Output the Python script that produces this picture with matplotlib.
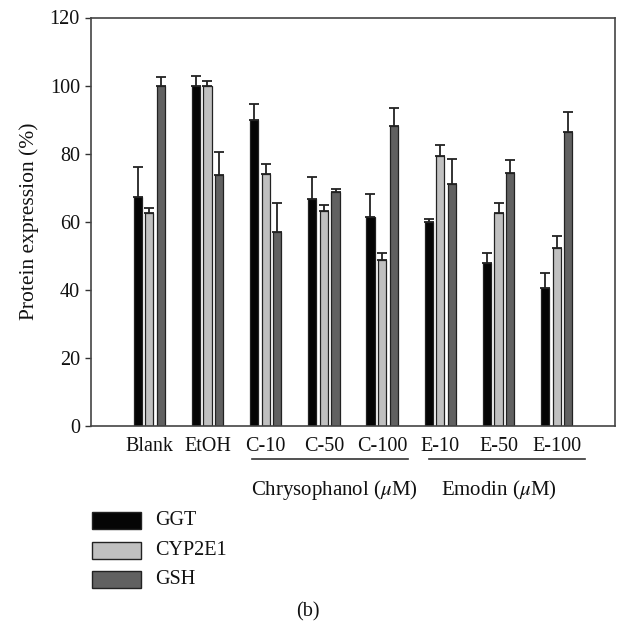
import matplotlib
matplotlib.use("Agg")
import matplotlib.pyplot as plt
from matplotlib.patches import Rectangle
from matplotlib.lines import Line2D
import numpy as np

plt.rcParams["font.family"] = ["Liberation Serif", "DejaVu Serif"]
plt.rcParams["mathtext.fontset"] = "stix"

categories = ["Blank", "EtOH", "C-10", "C-50", "C-100", "E-10", "E-50", "E-100"]
series = ["GGT", "CYP2E1", "GSH"]

ggt = [67.2, 100.0, 89.9, 66.8, 61.3, 59.9, 48.0, 40.6]
ggt_err = [9.0, 2.9, 4.7, 6.3, 6.8, 1.0, 2.7, 4.2]
cyp = [62.5, 100.0, 74.0, 63.2, 48.8, 79.2, 62.7, 52.2]
cyp_err = [1.4, 1.4, 3.1, 1.7, 1.9, 3.4, 2.9, 3.7]
gsh = [100.0, 73.8, 56.9, 68.6, 88.0, 71.1, 74.3, 86.4]
gsh_err = [2.5, 6.7, 8.7, 1.1, 5.4, 7.2, 3.7, 5.8]

colors = ["#050505", "#c0c0c0", "#616161"]
edge = "#222222"
fs = 14.5

fig = plt.figure(figsize=(6.18, 6.32), dpi=100)
ax = fig.add_axes([91 / 618, 1 - 426 / 632, (615 - 91) / 618, (426 - 17.5) / 632])

x = np.arange(len(categories))
offsets = [-0.2, 0.0, 0.2]
width = 0.14
for vals, errs, off, col in zip([ggt, cyp, gsh], [ggt_err, cyp_err, gsh_err], offsets, colors):
    ax.bar(x + off, vals, width, color=col, edgecolor=edge, linewidth=0.9, zorder=2)
    ax.errorbar(x + off, vals, yerr=[np.zeros(len(vals)), errs], fmt="none",
                ecolor="#222222", elinewidth=1.3, capsize=3.7, capthick=1.3, zorder=3)

ax.set_xlim(-1.0, 8.0)
ax.set_ylim(0, 120)
ax.set_yticks(range(0, 121, 20))
ax.tick_params(axis="y", direction="out", length=4, width=1.0, colors="#333333",
               labelsize=fs, labelcolor="#111111", pad=4)
ax.set_xticks(x)
ax.set_xticklabels(categories, fontsize=fs, color="#111111")
ax.tick_params(axis="x", length=0, pad=8)
for s in ax.spines.values():
    s.set_color("#444444")
    s.set_linewidth(1.2)
ax.set_ylabel("Protein expression (%)", fontsize=15.5, color="#111111", labelpad=8)

# group underlines and labels
fig.add_artist(Line2D([252 / 618, 408 / 618], [1 - 459 / 632] * 2, color="#333333", lw=1.2))
fig.add_artist(Line2D([429 / 618, 585 / 618], [1 - 459 / 632] * 2, color="#333333", lw=1.2))
fig.text(334 / 618, 1 - 490 / 632, r"Chrysophanol ($\mu$M)", fontsize=15, ha="center", va="center",
         color="#111111")
fig.text(499 / 618, 1 - 490 / 632, r"Emodin ($\mu$M)", fontsize=15, ha="center", va="center",
         color="#111111")

# legend drawn manually to sit below the axes
leg_y = [520.5, 550.5, 579.5]
for name, col, yc in zip(series, colors, leg_y):
    fig.add_artist(Rectangle((92 / 618, 1 - (yc + 8.5) / 632), 49 / 618, 17 / 632,
                             facecolor=col, edgecolor=edge, linewidth=1.0))
    fig.text(155 / 618, 1 - yc / 632, name, fontsize=fs, ha="left", va="center", color="#111111")

fig.text(308 / 618, 1 - 612 / 632, "(b)", fontsize=fs, ha="center", va="center", color="#111111")

fig.savefig("out.png", dpi=100)
